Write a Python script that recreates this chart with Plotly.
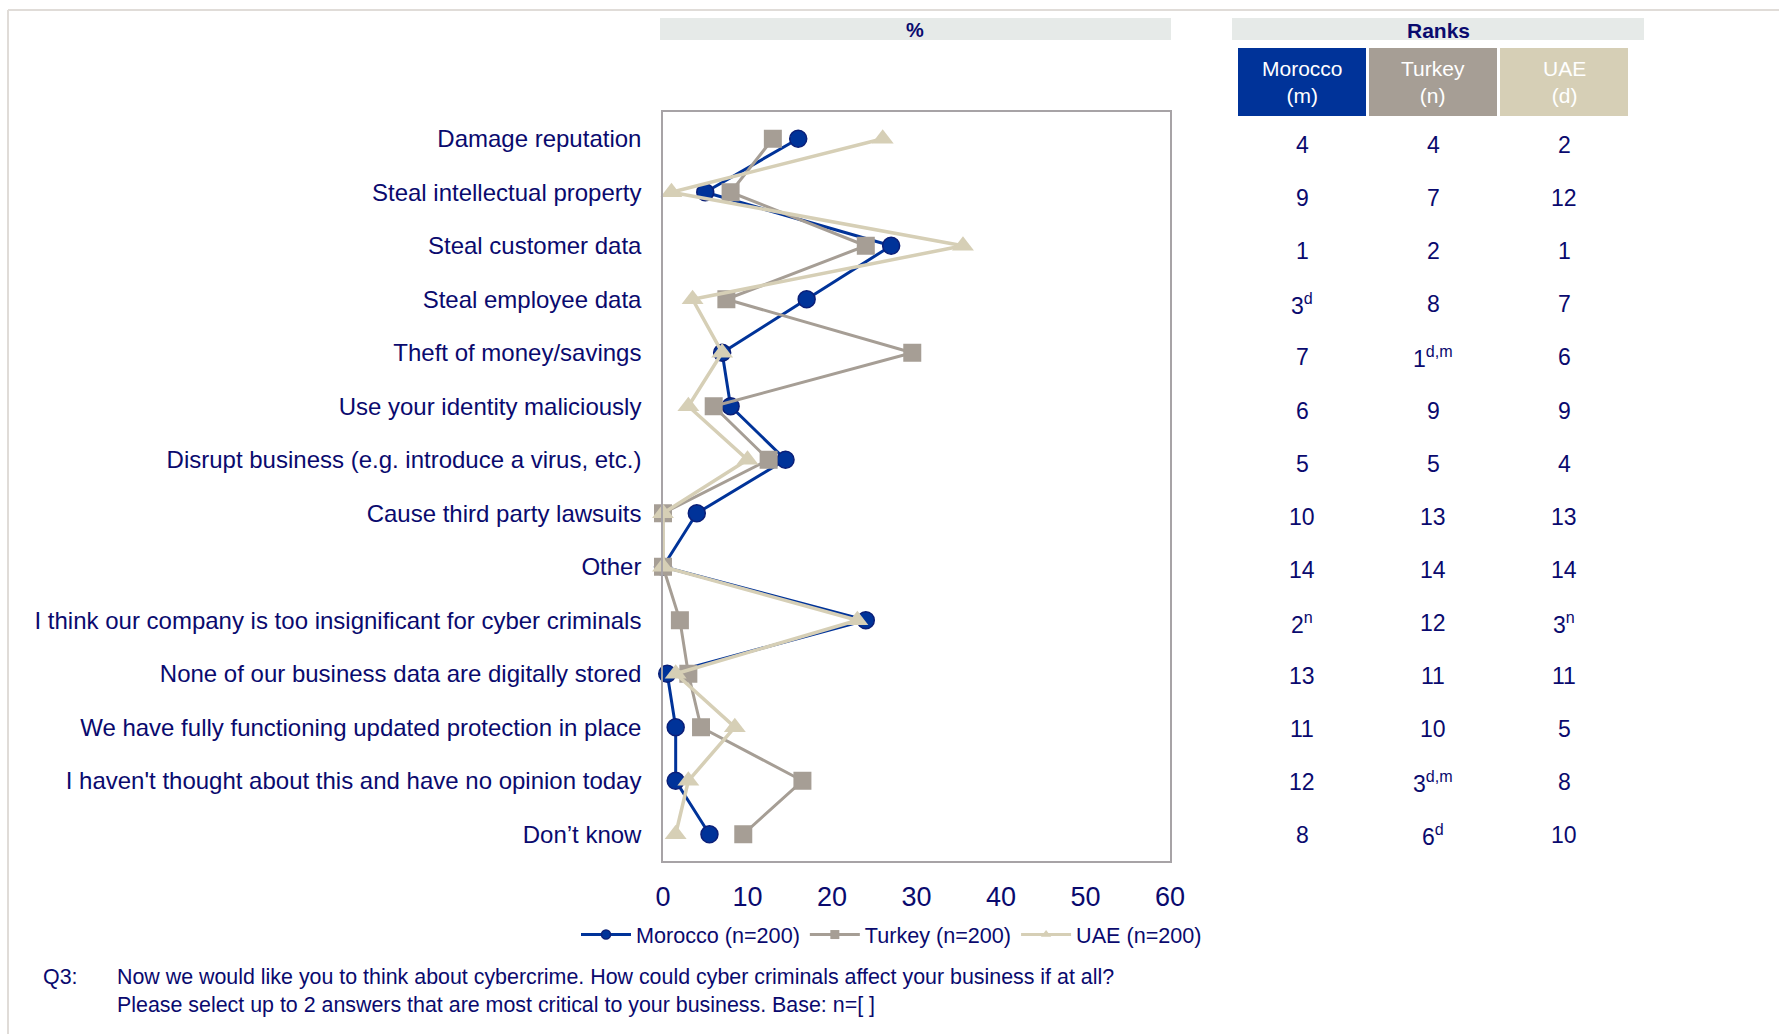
import plotly.graph_objects as go

# ---- data -------------------------------------------------------------
categories = [
    "Damage reputation",
    "Steal intellectual property",
    "Steal customer data",
    "Steal employee data",
    "Theft of money/savings",
    "Use your identity maliciously",
    "Disrupt business (e.g. introduce a virus, etc.)",
    "Cause third party lawsuits",
    "Other",
    "I think our company is too insignificant for cyber criminals",
    "None of our business data are digitally stored",
    "We have fully functioning updated protection in place",
    "I haven't thought about this and have no opinion today",
    "Don\u2019t know",
]
morocco = [16, 5, 27, 17, 7, 8, 14.5, 4, 0, 24, 0.5, 1.5, 1.5, 5.5]
turkey = [13, 8, 24, 7.5, 29.5, 6, 12.5, 0, 0, 2, 3, 4.5, 16.5, 9.5]
uae = [26, 1, 35.5, 3.5, 7, 3, 10, 0, 0, 23, 1.5, 8.5, 3, 1.5]

rank_morocco = ["4", "9", "1", "3<sup>d</sup>", "7", "6", "5", "10", "14",
                "2<sup>n</sup>", "13", "11", "12", "8"]
rank_turkey = ["4", "7", "2", "8", "1<sup>d,m</sup>", "9", "5", "13", "14",
               "12", "11", "10", "3<sup>d,m</sup>", "6<sup>d</sup>"]
rank_uae = ["2", "12", "1", "7", "6", "9", "4", "13", "14",
            "3<sup>n</sup>", "11", "5", "8", "10"]

series_names = ["Morocco (n=200)", "Turkey (n=200)", "UAE (n=200)"]
rank_headers = ["Morocco<br>(m)", "Turkey<br>(n)", "UAE<br>(d)"]
x_ticks = [0, 10, 20, 30, 40, 50, 60]
question_label = "Q3:"
question_text = ("Now we would like you to think about cybercrime. How could cyber criminals "
                 "affect your business if at all?<br>Please select up to 2 answers that are "
                 "most critical to your business. Base: n=[ ]")

# ---- styling ----------------------------------------------------------
NAVY = "#0a0a6e"
C_MOR = "#003399"
C_TUR = "#a69e95"
C_UAE = "#d6cfb6"
FONT = "Liberation Sans, Arial, sans-serif"

W, H = 1779, 1034
L, R, T, B = 663, 1170, 112, 861   # plot box in pixels


def px(x):
    return (x - L) / (R - L)


def py(y):
    return (B - y) / (B - T)


fig = go.Figure()

styles = [
    (morocco, C_MOR, "circle", 17, 3, dict(color="#0b1f78", width=1.5)),
    (turkey, C_TUR, "square", 18, 3, dict(width=0)),
    (uae, C_UAE, "triangle-up", 19, 3.5, dict(width=0)),
]
for (vals, col, sym, size, lw, outline), name in zip(styles, series_names):
    fig.add_trace(go.Scatter(
        x=vals, y=categories, mode="lines+markers", name=name,
        line=dict(color=col, width=lw),
        marker=dict(symbol=sym, size=size, color=col, line=outline),
        cliponaxis=False, showlegend=False,
    ))
# legend entries with small markers
for (vals, col, sym, size, lw, outline), name in zip(styles, series_names):
    fig.add_trace(go.Scatter(
        x=[None], y=[None], mode="lines+markers", name=name,
        line=dict(color=col, width=3),
        marker=dict(symbol=sym, size=9, color=col, line=outline),
        showlegend=True,
    ))

shapes = []
annotations = []


def label(text, x, y, size, color=NAVY, **kw):
    d = dict(text=text, xref="paper", yref="paper", x=x, y=y,
             xanchor="center", yanchor="middle", showarrow=False,
             font=dict(family=FONT, size=size, color=color))
    d.update(kw)
    annotations.append(d)


# outer frame (top and left edges)
shapes.append(dict(type="line", xref="paper", yref="paper",
                   x0=px(8), x1=px(W + 5), y0=py(10), y1=py(10),
                   line=dict(color="#e0dcd8", width=2)))
shapes.append(dict(type="line", xref="paper", yref="paper",
                   x0=px(8), x1=px(8), y0=py(10), y1=py(H + 5),
                   line=dict(color="#e0dcd8", width=2)))

# header bars
shapes.append(dict(type="rect", xref="paper", yref="paper", layer="below",
                   x0=px(660), x1=px(1171), y0=py(40), y1=py(18),
                   fillcolor="#e6eae8", line=dict(width=0)))
shapes.append(dict(type="rect", xref="paper", yref="paper", layer="below",
                   x0=px(1232), x1=px(1644), y0=py(40), y1=py(18),
                   fillcolor="#e6eae8", line=dict(width=0)))
label("<b>%</b>", px(915), py(30), 20)
label("<b>Ranks</b>", px(1438), py(30), 21)

# rank table (rows sit on a slightly tighter pitch than the chart rows)
col_left = [1238, 1369, 1500]
col_w = 128
head_colors = [C_MOR, C_TUR, C_UAE]
for left, hc, head, ranks in zip(col_left, head_colors, rank_headers,
                                 [rank_morocco, rank_turkey, rank_uae]):
    shapes.append(dict(type="rect", xref="paper", yref="paper",
                       x0=px(left), x1=px(left + col_w), y0=py(116), y1=py(48),
                       fillcolor=hc, line=dict(width=0)))
    cx = px(left + col_w / 2)
    label(head, cx, py(82), 21, color="white")
    for i, (cat, rk) in enumerate(zip(categories, ranks)):
        annotations.append(dict(text=rk, xref="paper", yref="y",
                                x=cx, y=cat, yshift=-(6.3 - 0.41 * i),
                                showarrow=False,
                                xanchor="center", yanchor="middle",
                                font=dict(family=FONT, size=23, color=NAVY)))

# question footnote
label(question_label, px(41), py(977), 21.4, xanchor="left")
label(question_text, px(115), py(963), 21.4, xanchor="left", yanchor="top",
      align="left")

fig.update_layout(
    width=W, height=H, autosize=False,
    margin=dict(l=L, r=W - R, t=T, b=H - B, pad=0, autoexpand=False),
    paper_bgcolor="white", plot_bgcolor="white",
    font=dict(family=FONT, color=NAVY),
    shapes=shapes, annotations=annotations,
    legend=dict(orientation="h", x=px(576), xanchor="left",
                y=py(935), yanchor="middle",
                font=dict(family=FONT, size=21.6, color=NAVY),
                bgcolor="rgba(0,0,0,0)", itemwidth=50, tracegroupgap=0),
)
fig.update_xaxes(range=[0, 60], tickvals=x_ticks, showgrid=False, zeroline=False,
                 showline=True, mirror=True, linecolor="#a7a3a6", linewidth=1.5,
                 ticks="", ticklabelstandoff=11,
                 tickfont=dict(family=FONT, size=27, color=NAVY), fixedrange=True)
fig.update_yaxes(type="category", categoryorder="array", categoryarray=categories,
                 range=[13.5, -0.5], showgrid=False, zeroline=False,
                 showline=True, mirror=True, linecolor="#a7a3a6", linewidth=1.5,
                 ticks="", ticklabelstandoff=15,
                 tickfont=dict(family=FONT, size=24, color=NAVY), fixedrange=True)

fig.write_html("out.html")
